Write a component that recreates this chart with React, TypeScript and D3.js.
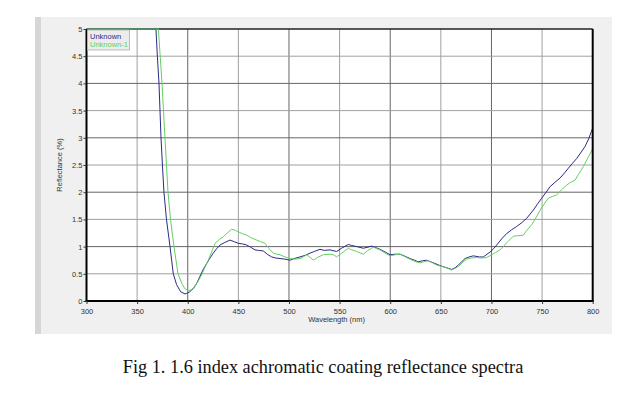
import { useEffect, useRef } from "react";
import * as d3 from "d3";

// "Unknown" trace (nm, %). Values above 5 are where the instrument saturates.
const wlUnknown = [
  300, 355, 362, 366, 368.6, 370, 371.6, 373.6, 375, 376.5, 379, 382.5, 385.7, 389, 393, 397.3,
  399, 402, 405.5, 409, 412, 415, 418.7, 422, 425.2, 428.5, 431.9, 436, 441.7, 446, 450, 454,
  458.2, 462, 466.4, 470, 474.6, 478.5, 482.9, 487, 491.1, 496, 501, 505, 510.9, 516, 520.8,
  525, 530.6, 535, 540.5, 547.1, 552, 558.6, 562, 566.9, 573.4, 578, 581.7, 586, 589.9, 595,
  599.8, 605, 609.7, 615, 619.5, 624, 627.7, 632, 636, 640, 644.2, 648, 652.4, 656, 660.7, 664,
  667.3, 671, 673.9, 678, 682.1, 688, 692, 698.6, 702, 705.2, 710, 715, 720, 724.9, 730, 734.8,
  741.3, 745, 749.6, 754, 757.8, 762, 767.7, 772, 775.9, 780, 784.2, 788, 792.4, 796, 800,
];
const reflUnknown = [
  9, 7.5, 6.5, 5.8, 5.0, 4.5, 4.0, 3.0, 2.5, 2.0, 1.5, 1.0, 0.5, 0.3, 0.17, 0.13,
  0.14, 0.17, 0.23, 0.33, 0.45, 0.57, 0.69, 0.79, 0.88, 0.96, 1.03, 1.07, 1.12, 1.09, 1.06, 1.05,
  1.03, 0.99, 0.94, 0.93, 0.92, 0.86, 0.81, 0.79, 0.78, 0.77, 0.75, 0.78, 0.81, 0.84, 0.88,
  0.91, 0.95, 0.93, 0.94, 0.91, 0.97, 1.04, 1.02, 1.0, 0.97, 0.99, 1.01, 0.98, 0.95, 0.9,
  0.85, 0.86, 0.86, 0.82, 0.78, 0.75, 0.72, 0.74, 0.75, 0.72, 0.69, 0.66, 0.63, 0.61, 0.58, 0.61,
  0.66, 0.73, 0.78, 0.81, 0.83, 0.81, 0.81, 0.9, 0.96, 1.03, 1.14, 1.24, 1.31, 1.37, 1.44, 1.52,
  1.67, 1.77, 1.89, 2.0, 2.1, 2.17, 2.26, 2.35, 2.44, 2.53, 2.62, 2.72, 2.84, 2.98, 3.18,
];

// "Unknown-1" trace
const wlUnknown1 = [
  300, 358, 365, 368, 371, 374.6, 377.5, 380.5, 383, 386.4, 390.4, 394, 397, 400.5, 404, 407.2,
  410.5, 413.8, 417, 420.3, 424, 427, 431, 435.1, 439, 443.4, 447, 450, 454, 458.2, 463, 468.1,
  472, 476.3, 480, 484.5, 488, 491.1, 496, 501, 506, 510.9, 514, 517.5, 521, 524, 528, 533.9,
  540.5, 544, 547.1, 552, 558.6, 562, 566.9, 573.4, 578, 583.3, 589.9, 595, 599.8, 605, 609.7,
  615, 619.5, 624, 629.4, 633, 637.6, 642, 645.9, 650, 654.1, 657, 660.7, 665, 668.9, 672, 675.5,
  680, 685.4, 690, 695.3, 700.2, 704, 708.4, 711.7, 716, 721.6, 726, 731.5, 735, 739.7, 744, 748,
  752, 756.1, 760, 764.4, 769, 774.3, 778, 782.5, 786, 790.7, 795, 800,
];
const reflUnknown1 = [
  9, 8.0, 6.8, 5.8, 5.0, 4.0, 3.0, 2.0, 1.5, 1.0, 0.5, 0.33, 0.23, 0.19, 0.21, 0.27,
  0.37, 0.48, 0.62, 0.75, 0.92, 1.06, 1.13, 1.18, 1.25, 1.32, 1.3, 1.27, 1.24, 1.21, 1.16, 1.12,
  1.09, 1.06, 0.97, 0.88, 0.86, 0.85, 0.81, 0.78, 0.77, 0.78, 0.81, 0.85, 0.8, 0.75, 0.8, 0.85,
  0.86, 0.85, 0.81, 0.88, 0.97, 0.94, 0.91, 0.86, 0.93, 0.99, 0.94, 0.88, 0.83, 0.85, 0.86,
  0.81, 0.77, 0.73, 0.7, 0.72, 0.74, 0.7, 0.66, 0.64, 0.62, 0.6, 0.57, 0.61, 0.66, 0.72, 0.77,
  0.79, 0.8, 0.79, 0.8, 0.85, 0.89, 0.94, 1.0, 1.09, 1.19, 1.2, 1.21, 1.3, 1.4, 1.53, 1.67,
  1.78, 1.89, 1.92, 1.95, 2.04, 2.13, 2.18, 2.22, 2.33, 2.47, 2.62, 2.8,
];

const xTicks = [300, 350, 400, 450, 500, 550, 600, 650, 700, 750, 800];
const yTicks = [0, 0.5, 1, 1.5, 2, 2.5, 3, 3.5, 4, 4.5, 5];
const yTickLabels = ["0", "0.5", "1", "1.5", "2", "2.5", "3", "3.5", "4", "4.5", "5"];
const seriesNames = ["Unknown", "Unknown-1"];
const seriesColors = ["#2c2a86", "#62d062"];

const W = 643;
const H = 397;
const margin = { top: 29, right: 50.3, bottom: 96, left: 86.5 };

export default function App() {
  const ref = useRef<SVGSVGElement | null>(null);

  useEffect(() => {
    const svg = d3.select(ref.current);
    svg.selectAll("*").remove();

    const plotW = W - margin.left - margin.right;
    const plotH = H - margin.top - margin.bottom;
    const font = "'Liberation Sans', Arial, sans-serif";

    // panel background
    svg.append("rect").attr("x", 35).attr("y", 17).attr("width", 6).attr("height", 317).attr("fill", "#d6d6d6");
    svg.append("rect").attr("x", 41).attr("y", 17).attr("width", 571).attr("height", 317).attr("fill", "#f0f0f0");

    const x = d3.scaleLinear().domain([300, 800]).range([margin.left, margin.left + plotW]);
    const y = d3.scaleLinear().domain([0, 5]).range([margin.top + plotH, margin.top]).clamp(true);

    svg.append("rect")
      .attr("x", margin.left).attr("y", margin.top)
      .attr("width", plotW).attr("height", plotH)
      .attr("fill", "#ffffff");

    // grid
    const grid = svg.append("g");
    grid.selectAll(".vg").data(xTicks.slice(1, -1)).enter().append("line")
      .attr("x1", (d) => x(d)).attr("x2", (d) => x(d))
      .attr("y1", margin.top).attr("y2", margin.top + plotH)
      .attr("stroke", (d) => (d % 100 === 0 ? "#666" : "#a0a0a0"))
      .attr("stroke-width", 1);
    grid.selectAll(".hg").data(yTicks.slice(1, -1)).enter().append("line")
      .attr("x1", margin.left).attr("x2", margin.left + plotW)
      .attr("y1", (d) => y(d)).attr("y2", (d) => y(d))
      .attr("stroke", (d) => (d % 1 === 0 ? "#666" : "#a0a0a0"))
      .attr("stroke-width", 1);

    // top frame edge sits under the traces (saturated part runs along it)
    svg.append("line")
      .attr("x1", margin.left).attr("x2", margin.left + plotW)
      .attr("y1", margin.top).attr("y2", margin.top)
      .attr("stroke", "#222").attr("stroke-width", 1.5);

    // traces
    svg.append("clipPath").attr("id", "plot-clip")
      .append("rect")
      .attr("x", margin.left).attr("y", margin.top - 1)
      .attr("width", plotW).attr("height", plotH + 2);

    const line = d3.line<[number, number]>()
      .x((d) => x(d[0]))
      .y((d) => y(d[1]));

    const traces: [number, number][][] = [
      wlUnknown.map((w, i) => [w, reflUnknown[i]]),
      wlUnknown1.map((w, i) => [w, reflUnknown1[i]]),
    ];
    traces.forEach((t, i) => {
      svg.append("path")
        .datum(t)
        .attr("clip-path", "url(#plot-clip)")
        .attr("fill", "none")
        .attr("stroke", seriesColors[i])
        .attr("stroke-width", 1)
        .attr("d", line);
    });

    // frame: left, bottom, right
    svg.append("line")
      .attr("x1", margin.left).attr("x2", margin.left)
      .attr("y1", margin.top).attr("y2", margin.top + plotH + 1)
      .attr("stroke", "#000").attr("stroke-width", 2);
    svg.append("line")
      .attr("x1", margin.left - 1).attr("x2", margin.left + plotW + 1)
      .attr("y1", margin.top + plotH).attr("y2", margin.top + plotH)
      .attr("stroke", "#000").attr("stroke-width", 2);
    svg.append("line")
      .attr("x1", margin.left + plotW).attr("x2", margin.left + plotW)
      .attr("y1", margin.top).attr("y2", margin.top + plotH)
      .attr("stroke", "#000").attr("stroke-width", 2);

    // axes
    const xAxis = svg.append("g")
      .attr("transform", `translate(0,${margin.top + plotH})`)
      .call(d3.axisBottom(x).tickValues(xTicks).tickSize(3).tickFormat((d) => String(d)));
    const yAxis = svg.append("g")
      .attr("transform", `translate(${margin.left},0)`)
      .call(d3.axisLeft(y).tickValues(yTicks).tickSize(3).tickPadding(1)
        .tickFormat((d, i) => yTickLabels[i]));
    [xAxis, yAxis].forEach((a) => {
      a.select(".domain").remove();
      a.selectAll("line").attr("stroke", "#333");
      a.selectAll("text").attr("fill", "#333").style("font-family", font).style("font-size", "7.5px");
    });
    xAxis.selectAll("text").attr("dy", "0.9em");

    svg.append("text")
      .attr("x", margin.left + plotW / 2 - 3).attr("y", 322)
      .attr("text-anchor", "middle")
      .style("font-family", font).style("font-size", "7.5px").attr("fill", "#333")
      .text("Wavelength (nm)");
    svg.append("text")
      .attr("transform", `translate(62,${margin.top + plotH / 2}) rotate(-90)`)
      .attr("text-anchor", "middle")
      .style("font-family", font).style("font-size", "7.5px").attr("fill", "#333")
      .text("Reflectance (%)");

    // legend
    const lg = svg.append("g").attr("transform", `translate(${margin.left + 1},${margin.top + 1})`);
    lg.append("rect").attr("width", 42).attr("height", 20)
      .attr("fill", "#ececec").attr("stroke", "#b0b0b0").attr("stroke-width", 0.8);
    seriesNames.forEach((n, i) => {
      lg.append("text")
        .attr("x", 2.5).attr("y", 8.5 + i * 8.6)
        .style("font-family", font).style("font-size", "7.5px")
        .attr("fill", seriesColors[i])
        .text(n);
    });

    // caption
    svg.append("text")
      .attr("x", 323).attr("y", 373)
      .attr("text-anchor", "middle")
      .style("font-family", "'Liberation Serif', 'Times New Roman', serif")
      .style("font-size", "18.3px").attr("fill", "#111")
      .text("Fig 1. 1.6 index achromatic coating reflectance spectra");
  }, []);

  return (
    <svg
      ref={ref}
      width={W}
      height={H}
      style={{ position: "absolute", left: 0, top: 0, background: "#fff" }}
    />
  );
}
